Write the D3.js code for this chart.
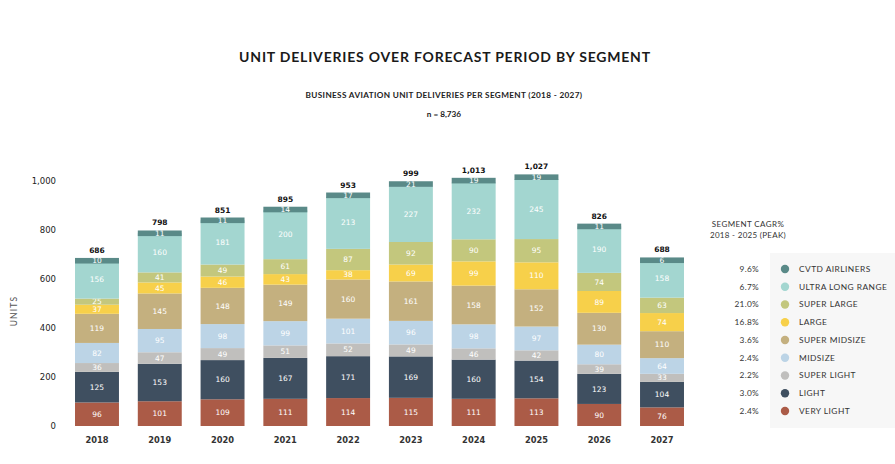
<!DOCTYPE html>
<html><head><meta charset="utf-8">
<script src="https://cdn.jsdelivr.net/npm/d3@7"></script>
<style>body{margin:0;background:#fff}svg{display:block}</style>
</head><body>
<svg id="c" width="895" height="464"></svg>
<script>
const years = ["2018","2019","2020","2021","2022","2023","2024","2025","2026","2027"];
const segments = ["VERY LIGHT","LIGHT","SUPER LIGHT","MIDSIZE","SUPER MIDSIZE","LARGE","SUPER LARGE","ULTRA LONG RANGE","CVTD AIRLINERS"];
const veryLight = [96,101,109,111,114,115,111,113,90,76];
const light = [125,153,160,167,171,169,160,154,123,104];
const superLight = [36,47,49,51,52,49,46,42,39,33];
const midsize = [82,95,98,99,101,96,98,97,80,64];
const superMidsize = [119,145,148,149,160,161,158,152,130,110];
const large = [37,45,46,43,38,69,99,110,89,74];
const superLarge = [25,41,49,61,87,92,90,95,74,63];
const ultraLongRange = [156,160,181,200,213,227,232,245,190,158];
const cvtdAirliners = [10,11,11,14,17,21,19,19,11,6];
const cagr = ["2.4%","3.0%","2.2%","2.4%","3.6%","16.8%","21.0%","6.7%","9.6%"];
const colors = ["#ab5b47","#3f4f60","#c0bfbd","#bcd4e6","#c4b07f","#f7d04a","#c3c77d","#a3d6d0","#5a8a88"];
const yTicks = [0,200,400,600,800,1000];

const seriesValues = [veryLight,light,superLight,midsize,superMidsize,large,superLarge,ultraLongRange,cvtdAirliners];
const rows = years.map((y,i)=>{const r={year:y}; segments.forEach((s,j)=>r[s]=seriesValues[j][i]); return r;});
const stack = d3.stack().keys(segments)(rows);

const svg = d3.select("#c");
const x = d3.scaleBand().domain(years).range([65.6,693.4]).paddingInner(0.3).paddingOuter(0.15);
const y = d3.scaleLinear().domain([0,1000]).range([426,181]);
const color = d3.scaleOrdinal().domain(segments).range(colors);
const minH = 5.6;
const segTop = d => y(d[1]);
const segH = (d,key) => { const h = y(d[0])-y(d[1]); return key===segments[segments.length-1] ? Math.max(h,minH) : h; };

// titles
svg.append("text").attr("x",445).attr("y",62).attr("text-anchor","middle")
  .attr("font-family","Lato").attr("font-weight",700).attr("font-size",14).attr("letter-spacing",0.8).attr("fill","#1a1a1a")
  .text("UNIT DELIVERIES OVER FORECAST PERIOD BY SEGMENT");
svg.append("text").attr("x",444).attr("y",98).attr("text-anchor","middle")
  .attr("font-family","Lato").attr("font-weight",700).attr("font-size",8.2).attr("letter-spacing",0.35).attr("fill","#222")
  .text("BUSINESS AVIATION UNIT DELIVERIES PER SEGMENT (2018 - 2027)");
svg.append("text").attr("x",444).attr("y",117).attr("text-anchor","middle")
  .attr("font-family","Lato").attr("font-weight",700).attr("font-size",8.2).attr("fill","#222")
  .text("n = 8,736");

// y axis
const yAxis = d3.axisLeft(y).tickValues(yTicks).tickFormat(d3.format(",")).tickSize(0).tickPadding(0);
const ga = svg.append("g").attr("transform","translate(56,0)").call(yAxis);
ga.select(".domain").remove();
ga.selectAll("text").attr("font-family","DejaVu Sans").attr("font-size",8.5).attr("fill","#222");
svg.append("text").attr("transform","translate(17,311) rotate(-90)").attr("text-anchor","middle")
  .attr("font-family","Lato").attr("font-size",8.5).attr("letter-spacing",1.2).attr("fill","#555").text("UNITS");

// x axis
const xAxis = d3.axisBottom(x).tickSize(0).tickPadding(0);
const gx = svg.append("g").attr("transform","translate(0,440)").call(xAxis);
gx.select(".domain").remove();
gx.selectAll("text").attr("font-family","DejaVu Sans").attr("font-weight",700).attr("font-size",8.3).attr("fill","#333").attr("dy","0.35em");

// bars
const layers = svg.append("g").selectAll("g").data(stack).join("g").attr("fill",d=>color(d.key));
layers.each(function(L){
  const g = d3.select(this);
  g.selectAll("rect").data(L).join("rect")
    .attr("x",d=>x(d.data.year)).attr("width",x.bandwidth())
    .attr("y",segTop).attr("height",d=>segH(d,L.key));
  g.selectAll("text").data(L).join("text")
    .attr("x",d=>x(d.data.year)+x.bandwidth()/2).attr("y",d=>segTop(d)+segH(d,L.key)/2)
    .attr("dy","0.35em").attr("text-anchor","middle")
    .attr("font-family","DejaVu Sans").attr("font-size",7.5).attr("fill","#fff")
    .text(d=>d[1]-d[0]);
});

// totals
const totals = rows.map((r,i)=>({year:r.year,total:d3.sum(seriesValues,s=>s[i])}));
svg.append("g").selectAll("text").data(totals).join("text")
  .attr("x",d=>x(d.year)+x.bandwidth()/2).attr("y",d=>y(d.total)-5)
  .attr("text-anchor","middle").attr("font-family","DejaVu Sans").attr("font-weight",700)
  .attr("font-size",7.5).attr("fill","#111").text(d=>d3.format(",")(d.total));

// legend
svg.append("rect").attr("x",770).attr("y",253).attr("width",125).attr("height",175).attr("fill","#f7f7f7");
svg.append("text").attr("x",748).attr("y",227).attr("text-anchor","middle")
  .attr("font-family","Lato").attr("font-size",8).attr("letter-spacing",0.4).attr("fill","#333").text("SEGMENT CAGR%");
svg.append("text").attr("x",748).attr("y",238).attr("text-anchor","middle")
  .attr("font-family","Lato").attr("font-size",8).attr("letter-spacing",0.3).attr("fill","#333").text("2018 - 2025 (PEAK)");
const legOrder = segments.map((s,i)=>({name:s,c:cagr[i]})).reverse();
const lg = svg.append("g").selectAll("g").data(legOrder).join("g")
  .attr("transform",(d,i)=>`translate(0,${269+i*17.75})`);
lg.append("text").attr("x",759).attr("dy","0.35em").attr("text-anchor","end")
  .attr("font-family","Lato").attr("font-size",8.3).attr("letter-spacing",0.3).attr("fill","#333").text(d=>d.c);
lg.append("circle").attr("cx",785).attr("r",4.2).attr("fill",d=>color(d.name));
lg.append("text").attr("x",799).attr("dy","0.35em")
  .attr("font-family","Lato").attr("font-size",8.4).attr("letter-spacing",0.45).attr("fill","#333").text(d=>d.name);
</script>
</body></html>
